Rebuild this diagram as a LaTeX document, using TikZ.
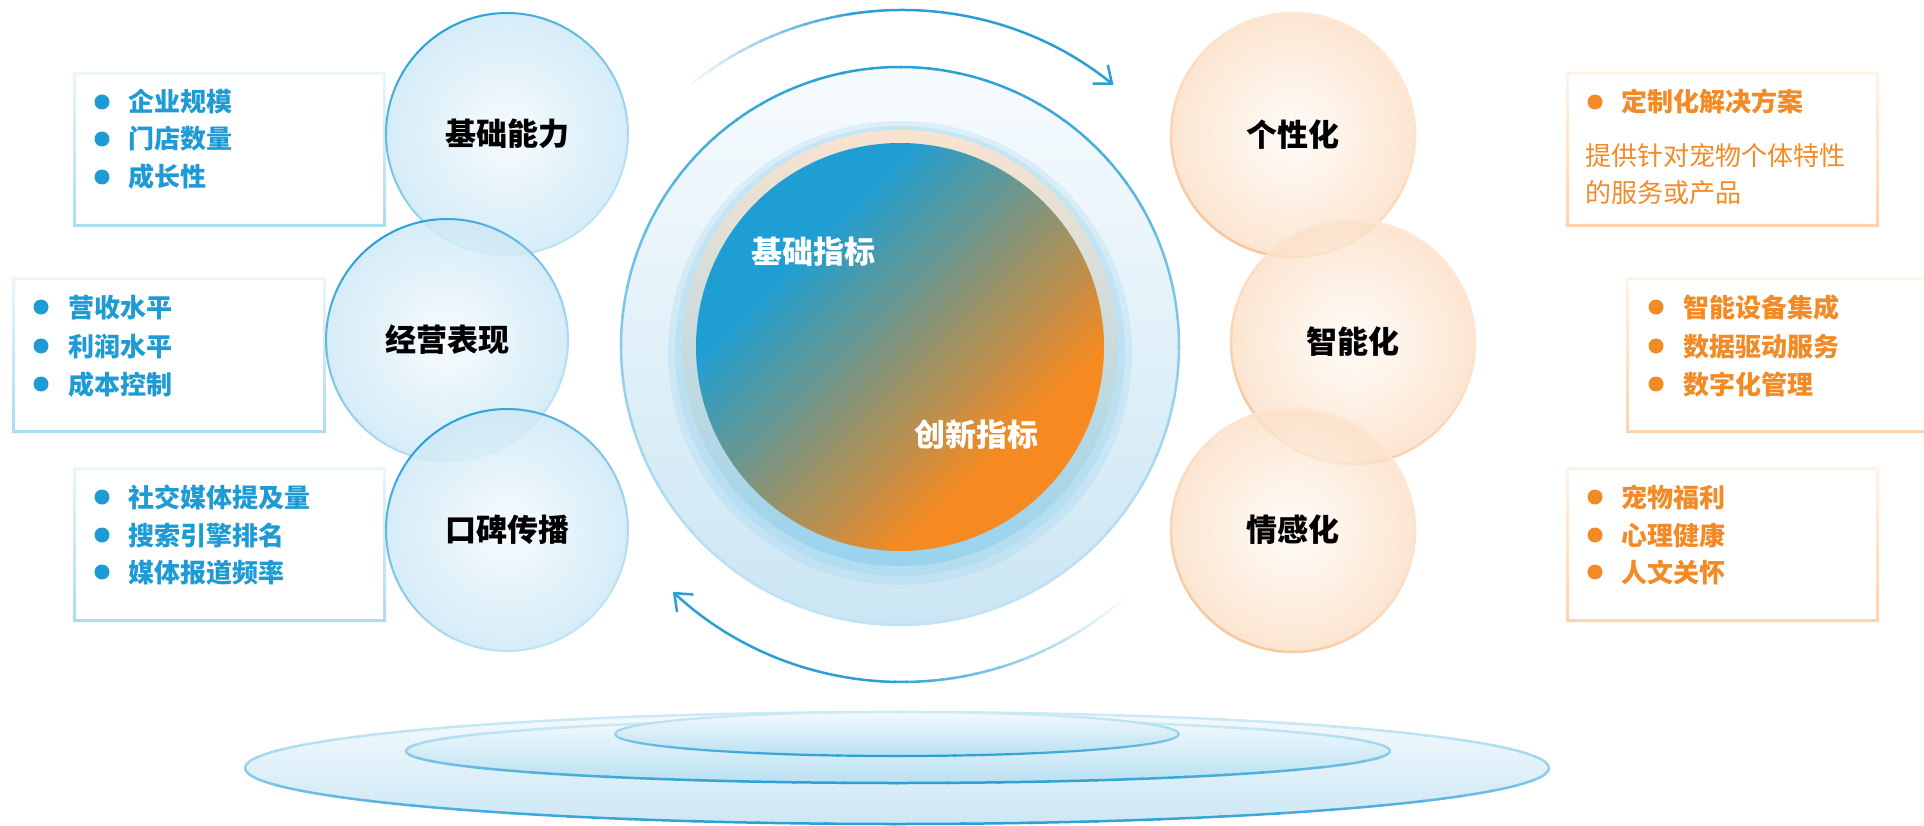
\documentclass[tikz,border=0pt]{standalone}
\usepackage{fontspec}
\setmainfont{Noto Sans CJK SC}
\usetikzlibrary{arrows.meta}
\definecolor{cblue}{HTML}{1F9ED3}
\definecolor{cmid}{HTML}{849479}
\definecolor{corange}{HTML}{F68A20}
\definecolor{tblue}{HTML}{1E9AD5}
\definecolor{torange}{HTML}{F28A26}
\definecolor{cline}{HTML}{2A9FD5}
\definecolor{lring}{HTML}{BDE3F4}
\definecolor{pring}{HTML}{F8C79C}
\definecolor{pringl}{HTML}{FDE8D6}
\definecolor{lfillin}{HTML}{F5FAFD}
\definecolor{lfillout}{HTML}{CCE8F5}
\definecolor{rfillin}{HTML}{FFFBF7}
\definecolor{rfillout}{HTML}{FBE0C7}
\definecolor{bxt}{HTML}{EAF6FC}
\definecolor{bxb}{HTML}{ADDBF1}
\definecolor{oxt}{HTML}{FFF3E8}
\definecolor{oxb}{HTML}{FDD3AE}
\definecolor{pl}{HTML}{CDE9F6}
\definecolor{pbt}{HTML}{F4FAFD}
\definecolor{pbb}{HTML}{CCE7F4}
\definecolor{pmb}{HTML}{B9E0F1}
\definecolor{ringtop}{HTML}{F7FBFE}
\definecolor{ringbot}{HTML}{CBE6F3}
\definecolor{halotop}{HTML}{F8E3CF}
\definecolor{halobot}{HTML}{98D3EE}
\pgfdeclarehorizontalshading{blueorange}{100bp}{color(0bp)=(cblue); color(33bp)=(cblue); color(50bp)=(cmid); color(68bp)=(corange); color(100bp)=(corange)}
% gradient stroke: cx cy rx ry dark light linewidth darkest-angle
\newcommand\gstroke[8]{%
  \foreach \a in {0,6,...,354}{%
    \pgfmathtruncatemacro\mixv{100*((0.5+0.5*cos(\a+3-(#8)))^1.5)}%
    \draw[line width=#7, color=#5!\mixv!#6] (#1,#2) ++({#3*cos(\a)},{#4*sin(\a)}) arc[start angle=\a, end angle=\a+6.4, x radius=#3, y radius=#4];
  }}
\newcommand\fadebox[6]{%
  \shade[top color=#5, bottom color=#6, even odd rule] (#1,#2) rectangle (#3,#4) (#1+3,#2+3) rectangle (#3-3,#4-3);}
\begin{document}
\begin{tikzpicture}[x=1pt,y=-1pt,
  blist/.style={anchor=base west, inner sep=0, font=\fontsize{26}{26}\selectfont\bfseries, text=tblue},
  olist/.style={anchor=base west, inner sep=0, font=\fontsize{26}{26}\selectfont\bfseries, text=torange},
  para/.style={anchor=base west, inner sep=0, font=\fontsize{26}{26}\selectfont, text=torange},
  lcirc/.style={circle, minimum size=242, inner sep=0, inner color=lfillin, outer color=lfillout, fill opacity=0.82, text opacity=1, text=black, font=\fontsize{31}{31}\selectfont\bfseries},
  rcirc/.style={circle, minimum size=244, inner sep=0, inner color=rfillin, outer color=rfillout, fill opacity=0.82, text opacity=1, text=black, font=\fontsize{31}{31}\selectfont\bfseries},
  wlabel/.style={inner sep=0, text=white, font=\fontsize{31}{31}\selectfont\bfseries},
  arcline/.style={line width=2.5, color=cline},
  bdot/.style={fill=tblue},
  odot/.style={fill=torange}]
\useasboundingbox (0,0) rectangle (1924,826);
\clip (0,0) rectangle (1924,826);

% ---- platform ----
\shade[top color=pbt, bottom color=pbb] (897,768) ellipse[x radius=652, y radius=56];
\gstroke{897}{768}{652}{56}{cline}{pl}{2.5}{90}
\shade[top color=pbt, bottom color=pmb] (898,751) ellipse[x radius=492, y radius=32];
\gstroke{898}{751}{492}{32}{cline}{pl}{2.5}{90}
\shade[top color=pbt, bottom color=pmb] (897,734) ellipse[x radius=282, y radius=22];
\gstroke{897}{734}{282}{22}{cline}{pl}{2.2}{90}

% ---- left boxes ----
\fadebox{73}{72}{386}{227}{bxt}{bxb}
\fill[bdot] (102,102) circle[radius=7.5];
\fill[bdot] (102,139) circle[radius=7.5];
\fill[bdot] (102,177) circle[radius=7.5];
\node[blist] (a1) at (128,112) {企业规模};
\node[blist] (a2) at (128,149) {门店数量};
\node[blist] (a3) at (128,187) {成长性};

\fadebox{12}{277}{326}{433}{bxt}{bxb}
\fill[bdot] (41,307) circle[radius=7.5];
\fill[bdot] (41,346) circle[radius=7.5];
\fill[bdot] (41,384) circle[radius=7.5];
\node[blist] (b1) at (68,317) {营收水平};
\node[blist] (b2) at (68,356) {利润水平};
\node[blist] (b3) at (68,394) {成本控制};

\fadebox{73}{467}{386}{622}{bxt}{bxb}
\fill[bdot] (102,497) circle[radius=7.5];
\fill[bdot] (102,535) circle[radius=7.5];
\fill[bdot] (102,572) circle[radius=7.5];
\node[blist] (c1) at (128,507) {社交媒体提及量};
\node[blist] (c2) at (128,545) {搜索引擎排名};
\node[blist] (c3) at (128,582) {媒体报道频率};

% ---- right boxes ----
\fadebox{1566}{72}{1879}{227}{oxt}{oxb}
\fill[odot] (1595,102) circle[radius=7.5];
\node[olist] (d1) at (1621,112) {定制化解决方案};
\node[para] (d2) at (1585,166) {提供针对宠物个体特性};
\node[para] (d3) at (1585,203) {的服务或产品};

\fadebox{1626}{277}{1940}{433}{oxt}{oxb}
\fill[odot] (1656,307) circle[radius=7.5];
\fill[odot] (1656,346) circle[radius=7.5];
\fill[odot] (1656,384) circle[radius=7.5];
\node[olist] (e1) at (1683,317) {智能设备集成};
\node[olist] (e2) at (1683,356) {数据驱动服务};
\node[olist] (e3) at (1683,394) {数字化管理};

\fadebox{1566}{467}{1879}{622}{oxt}{oxb}
\fill[odot] (1595,497) circle[radius=7.5];
\fill[odot] (1595,535) circle[radius=7.5];
\fill[odot] (1595,572) circle[radius=7.5];
\node[olist] (f1) at (1621,507) {宠物福利};
\node[olist] (f2) at (1621,545) {心理健康};
\node[olist] (f3) at (1621,582) {人文关怀};

% ---- left circles ----
\node[lcirc] (n1) at (507,134) {基础能力};
\gstroke{507}{134}{121}{121}{cline}{lring}{2}{-120}
\node[lcirc] (n2) at (447,340) {经营表现};
\gstroke{447}{340}{121}{121}{cline}{lring}{2}{-120}
\node[lcirc] (n3) at (507,530) {口碑传播};
\gstroke{507}{530}{121}{121}{cline}{lring}{2}{-120}

% ---- right circles ----
\node[rcirc] (m1) at (1293,135) {个性化};
\gstroke{1293}{135}{122}{122}{pring}{pringl}{2.5}{120}
\node[rcirc] (m2) at (1353,342) {智能化};
\gstroke{1353}{342}{122}{122}{pring}{pringl}{2.5}{120}
\node[rcirc] (m3) at (1293,530) {情感化};
\gstroke{1293}{530}{122}{122}{pring}{pringl}{2.5}{120}

% ---- centre ----
\node[circle, minimum size=558, inner sep=0, top color=ringtop, bottom color=ringbot] (ring) at (900,346) {};
\gstroke{900}{346}{279}{279}{cline}{lring}{2.5}{-90}
\fill[color=halobot, opacity=0.25] (900,353) circle[radius=232];
\fill[color=halobot, opacity=0.3] (900,351) circle[radius=225];
\node[circle, minimum size=436, inner sep=0, top color=halotop, bottom color=halobot] (halo) at (900,348) {};
\node[circle, minimum size=408, inner sep=0, shading=blueorange, shading angle=-45] (core) at (900,347) {};
\node[wlabel] (g1) at (813,252) {基础指标};
\node[wlabel] (g2) at (976,435) {创新指标};

% ---- cycle arrows ----
\foreach \a in {-131,-129,...,-101}{%
  \pgfmathtruncatemacro\mixv{100*(\a+131)/32}%
  \draw[arcline, color=cline!\mixv!white] (902,346) ++(\a:336) arc[start angle=\a, end angle=\a+2.4, radius=336];}
\draw[arcline, -{Straight Barb[length=15pt,width=24pt]}] (902,346) ++(-99:336) arc[start angle=-99, end angle=-51, radius=336];
\foreach \a in {47,49,...,89}{%
  \pgfmathtruncatemacro\mixv{100*(\a-47)/44}%
  \draw[arcline, color=cline!\mixv!white] (902,346) ++(\a:336) arc[start angle=\a, end angle=\a+2.4, radius=336];}
\draw[arcline, -{Straight Barb[length=15pt,width=24pt]}] (902,346) ++(91:336) arc[start angle=91, end angle=133, radius=336];
\end{tikzpicture}
\end{document}
